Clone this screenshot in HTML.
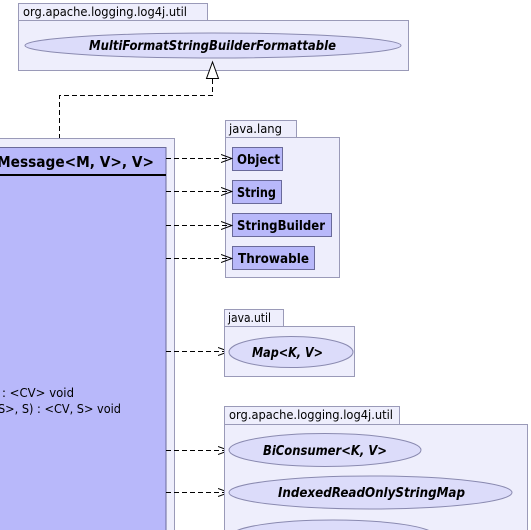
<!DOCTYPE html>
<html><head><meta charset="utf-8"><style>
html,body{margin:0;padding:0;background:#fff;width:531px;height:530px;overflow:hidden}
svg{display:block}
text{font-family:"DejaVu Sans","Liberation Sans",sans-serif}
</style></head><body>
<svg width="531" height="530" viewBox="0 0 531 530" xmlns="http://www.w3.org/2000/svg">
<defs>
<marker id="open" markerWidth="12" markerHeight="10" refX="11" refY="5" orient="auto" markerUnits="userSpaceOnUse">
<path d="M0,1 L11,5 L0,9" fill="none" stroke="#000" stroke-width="1"/></marker>
</defs>
<rect x="18.5" y="3.5" width="189" height="17" fill="#eeeefc" stroke="#9a9ab8"/>
<rect x="18.5" y="20.5" width="390" height="50" fill="#eeeefc" stroke="#9a9ab8"/>
<text x="23" y="16" font-size="12" textLength="164" lengthAdjust="spacingAndGlyphs">org.apache.logging.log4j.util</text>
<ellipse cx="213" cy="45.5" rx="188" ry="12.5" fill="#dcdcfa" stroke="#8a8ab0"/>
<text x="89" y="50" font-size="13" font-weight="bold" font-style="italic" textLength="247" lengthAdjust="spacingAndGlyphs">MultiFormatStringBuilderFormattable</text>
<path d="M59.5,147 V95.5 H212.5 V79" fill="none" stroke="#000" stroke-dasharray="5,3"/>
<path d="M212.5,62 L206.5,78.5 H218.5 Z" fill="#fff" stroke="#000"/>
<rect x="-5" y="138.5" width="179.5" height="400" fill="#eeeefc" stroke="#9a9ab8"/>
<rect x="-5" y="147.5" width="171" height="400" fill="#b8b8fa" stroke="#6a6a9a"/>
<line x1="-5" y1="175" x2="166" y2="175" stroke="#000" stroke-width="2"/>
<text x="-3" y="167" font-size="15" font-weight="bold" textLength="157" lengthAdjust="spacingAndGlyphs">Message&lt;M, V&gt;, V&gt;</text>
<text x="2" y="397" font-size="12" textLength="72" lengthAdjust="spacingAndGlyphs">: &lt;CV&gt; void</text>
<text x="-2" y="413" font-size="12" textLength="123" lengthAdjust="spacingAndGlyphs">S&gt;, S) : &lt;CV, S&gt; void</text>
<rect x="225.5" y="120.5" width="71" height="17" fill="#eeeefc" stroke="#9a9ab8"/>
<rect x="225.5" y="137.5" width="114" height="140" fill="#eeeefc" stroke="#9a9ab8"/>
<text x="229" y="133" font-size="12" textLength="53" lengthAdjust="spacingAndGlyphs">java.lang</text>
<rect x="232.5" y="147.5" width="50" height="23" fill="#b8b8fa" stroke="#6a6a9a"/>
<text x="237" y="164" font-size="13" font-weight="bold" textLength="43" lengthAdjust="spacingAndGlyphs">Object</text>
<rect x="232.5" y="180.5" width="49" height="23" fill="#b8b8fa" stroke="#6a6a9a"/>
<text x="237" y="197" font-size="13" font-weight="bold" textLength="39" lengthAdjust="spacingAndGlyphs">String</text>
<rect x="232.5" y="213.5" width="99" height="23" fill="#b8b8fa" stroke="#6a6a9a"/>
<text x="237" y="230" font-size="13" font-weight="bold" textLength="88" lengthAdjust="spacingAndGlyphs">StringBuilder</text>
<rect x="232.5" y="246.5" width="82" height="23" fill="#b8b8fa" stroke="#6a6a9a"/>
<text x="238" y="263" font-size="13" font-weight="bold" textLength="71" lengthAdjust="spacingAndGlyphs">Throwable</text>
<g stroke="#000" stroke-dasharray="5,3" fill="none" marker-end="url(#open)">
<line x1="166" y1="158.5" x2="232" y2="158.5"/>
<line x1="166" y1="191.5" x2="232" y2="191.5"/>
<line x1="166" y1="225.5" x2="232" y2="225.5"/>
<line x1="166" y1="258.5" x2="232" y2="258.5"/>
<line x1="166" y1="351.5" x2="229" y2="351.5"/>
<line x1="166" y1="450.5" x2="229" y2="450.5"/>
<line x1="166" y1="492.5" x2="229" y2="492.5"/>
</g>
<rect x="224.5" y="309.5" width="59" height="17" fill="#eeeefc" stroke="#9a9ab8"/>
<rect x="224.5" y="326.5" width="130" height="50" fill="#eeeefc" stroke="#9a9ab8"/>
<text x="228" y="322" font-size="12" textLength="43" lengthAdjust="spacingAndGlyphs">java.util</text>
<ellipse cx="291" cy="352" rx="62" ry="15.5" fill="#dcdcfa" stroke="#8a8ab0"/>
<text x="252" y="357" font-size="13" font-weight="bold" font-style="italic" textLength="71" lengthAdjust="spacingAndGlyphs">Map&lt;K, V&gt;</text>
<rect x="224.5" y="406.5" width="175" height="18" fill="#eeeefc" stroke="#9a9ab8"/>
<rect x="224.5" y="424.5" width="303" height="110" fill="#eeeefc" stroke="#9a9ab8"/>
<text x="229" y="419" font-size="12" textLength="164" lengthAdjust="spacingAndGlyphs">org.apache.logging.log4j.util</text>
<ellipse cx="325" cy="450" rx="96" ry="16.5" fill="#dcdcfa" stroke="#8a8ab0"/>
<text x="263" y="455" font-size="13" font-weight="bold" font-style="italic" textLength="124" lengthAdjust="spacingAndGlyphs">BiConsumer&lt;K, V&gt;</text>
<ellipse cx="370.5" cy="492.5" rx="141.5" ry="16.5" fill="#dcdcfa" stroke="#8a8ab0"/>
<text x="278" y="497" font-size="13" font-weight="bold" font-style="italic" textLength="187" lengthAdjust="spacingAndGlyphs">IndexedReadOnlyStringMap</text>
<ellipse cx="333" cy="536" rx="102" ry="16" fill="#dcdcfa" stroke="#8a8ab0"/>
</svg>
</body></html>
